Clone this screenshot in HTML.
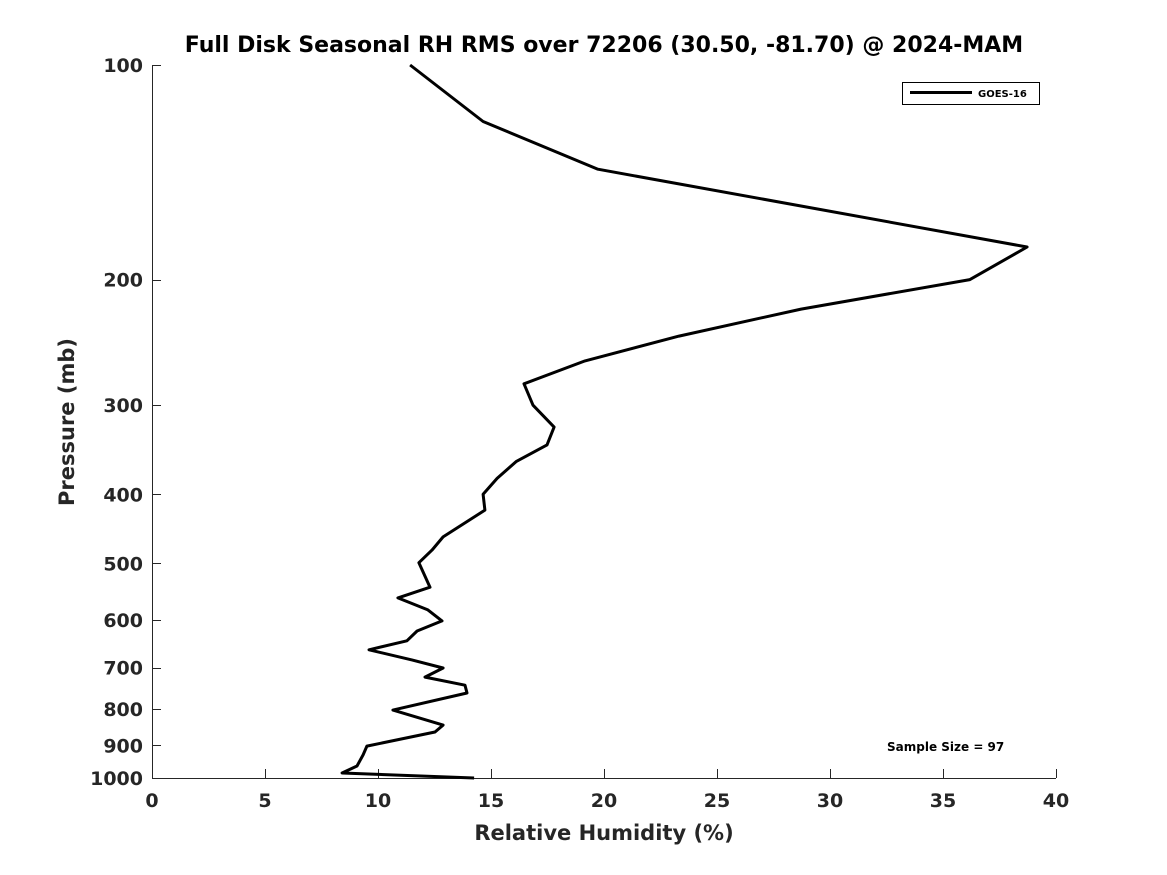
<!DOCTYPE html>
<html><head><meta charset="utf-8"><style>
html,body{margin:0;padding:0;background:#fff;}
svg{display:block;font-family:"DejaVu Sans","Liberation Sans",sans-serif;}
</style></head><body>
<svg id="chart" width="1167" height="875" viewBox="0 0 1167 875" xmlns="http://www.w3.org/2000/svg">
<rect width="1167" height="875" fill="#fff"/>
<text x="604" y="52" text-anchor="middle" font-size="22" font-weight="bold" fill="#000">Full Disk Seasonal RH RMS over 72206 (30.50, -81.70) @ 2024-MAM</text>
<g id="axes"></g>
<path id="series" fill="none" stroke="#000" stroke-width="3" stroke-linejoin="round"/>
<g>
<rect x="902.5" y="82.5" width="137" height="22" fill="#fff" stroke="#000" stroke-width="1"/>
<line x1="910" y1="92.5" x2="972" y2="92.5" stroke="#000" stroke-width="3"/>
<text x="978" y="97" font-size="10" font-weight="bold">GOES-16</text>
</g>
<text x="887" y="751" font-size="12" font-weight="bold">Sample Size = 97</text>
<text x="604" y="840" text-anchor="middle" font-size="21" font-weight="bold" fill="#262626">Relative Humidity (%)</text>
<text transform="translate(74,422) rotate(-90)" text-anchor="middle" font-size="21" font-weight="bold" fill="#262626">Pressure (mb)</text>
</svg>
<script>
const rhValues = [11.42,14.65,19.73,38.72,36.19,28.72,23.32,19.16,16.46,16.86,17.79,17.48,16.11,15.27,14.65,14.73,12.88,12.39,11.81,12.30,10.88,12.21,12.83,11.73,11.28,9.60,11.50,12.88,12.08,13.85,13.94,10.66,12.88,12.52,9.51,9.34,9.07,8.41,14.25];
const pressures = [100,120,140,180,200,220,240,260,280,300,322,341,360,380,400,421,459,479,499,540,559,581,602,622,642,661,683,701,722,741,760,803,843,862,902,928,962,984,1000];
const xTicks = [0,5,10,15,20,25,30,35,40];
const yTicks = [100,200,300,400,500,600,700,800,900,1000];

const L=152,R=1056,T=65,B=778;
function xs(v){return L+(v-0)/(40-0)*(R-L);}
function ys(p){return T+Math.log10(p/100)/Math.log10(1000/100)*(B-T);}
const NS="http://www.w3.org/2000/svg";
const axes=document.getElementById('axes');
function mk(tag,attrs,parent){const e=document.createElementNS(NS,tag);for(const k in attrs)e.setAttribute(k,attrs[k]);(parent||axes).appendChild(e);return e;}

const xl=mk('line',{x1:L,y1:B+0.5,x2:R,y2:B+0.5,stroke:'#262626','stroke-width':1});


const yl=mk('line',{x1:L+0.5,y1:T,x2:L+0.5,y2:B,stroke:'#262626','stroke-width':1});



xTicks.forEach(v=>{
  const x=Math.round(xs(v))+0.5;
  const t=mk('line',{x1:x,y1:B,x2:x,y2:B-9,stroke:'#262626','stroke-width':1});
  
  
  const lb=mk('text',{x:xs(v),y:B+29,'text-anchor':'middle','font-size':19,'font-weight':'bold',fill:'#262626'});
  lb.textContent=v;
  
  
});
yTicks.forEach(p=>{
  const y=Math.round(ys(p))+0.5;
  const t=mk('line',{x1:L,y1:y,x2:L+9,y2:y,stroke:'#262626','stroke-width':1});
  
  
  const lb=mk('text',{x:L-9,y:ys(p)+7,'text-anchor':'end','font-size':19,'font-weight':'bold',fill:'#262626'});
  lb.textContent=p;
  
  
});

let d='';
rhValues.forEach((v,i)=>{d+=(i?'L':'M')+xs(v).toFixed(1)+','+ys(pressures[i]).toFixed(1);});
document.getElementById('series').setAttribute('d',d);
</script>
</body></html>
